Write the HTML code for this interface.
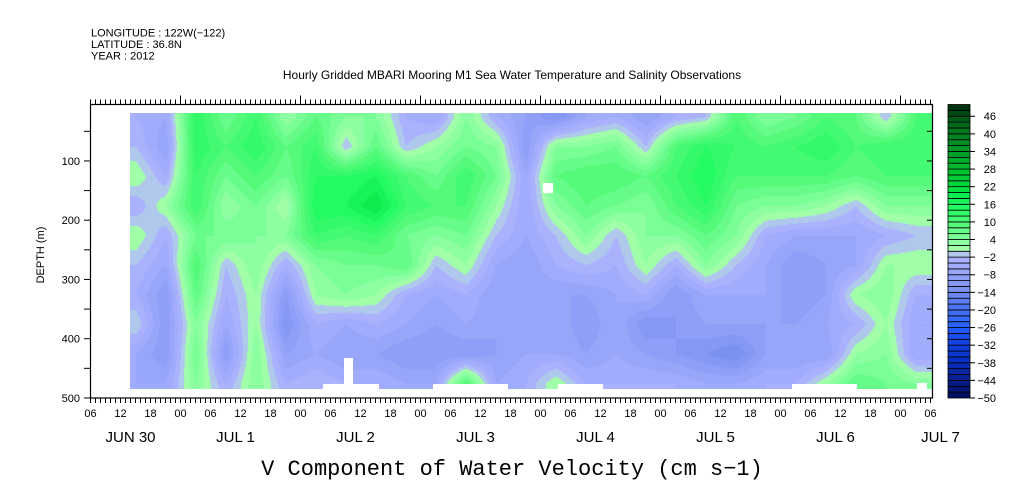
<!DOCTYPE html>
<html><head><meta charset="utf-8"><style>
body{margin:0;background:#fff;width:1009px;height:504px;overflow:hidden;position:relative;font-family:"Liberation Sans",sans-serif}
svg{position:absolute;left:0;top:0}
canvas{position:absolute;left:130px;top:113px}
</style></head><body>
<canvas id="hm" width="803" height="276"></canvas>
<svg id="s" width="1009" height="504"></svg>
<script>
// hours since Jun30 00:00 of each column
const hours=[15,21,27,33,39,45,51,57,63,69,75,81,87,93,99,105,111,117,123,129,135,141,147,153,159,165,171];
const depths=[25,75,125,175,225,275,325,375,425,475];
// values[col][row] in cm/s
const values=[
[-4,-2,2,-4,2,-2,-4,0,-6,-6],
[-6,-8,-4,2,-4,-6,-10,-10,-10,-6],
[14,14,12,12,6,10,8,4,6,4],
[6,10,6,2,6,-2,-4,-6,-10,-4],
[12,14,10,6,4,4,2,2,4,4],
[2,8,6,0,4,-4,-10,-12,-8,-4],
[8,12,14,16,12,4,2,-4,-6,-2],
[4,-2,14,16,10,6,4,-6,-8,-4],
[4,8,16,20,12,6,2,-4,-8,-4],
[-4,-2,10,12,6,8,-4,-6,-10,-6],
[-6,2,6,10,4,-2,-6,-8,-10,-6],
[4,6,12,10,6,2,-4,-6,-10,10],
[-4,4,6,2,-2,-6,-8,-8,-8,-6],
[-8,-10,-6,-6,-6,-8,-6,-8,-6,-4],
[-12,4,8,4,-2,-4,-8,-6,-6,2],
[-6,4,10,8,4,-2,-8,-10,-8,-4],
[-4,6,10,6,-2,-4,-6,-6,-6,-4],
[-8,-2,8,4,4,2,-4,-12,-8,-4],
[-4,10,12,10,4,-4,-10,-10,-10,-4],
[-2,14,16,14,8,4,-6,-8,-12,-6],
[10,12,10,6,4,-2,-6,-8,-14,-6],
[4,10,10,4,-4,-6,-6,-8,-8,-4],
[6,12,10,4,-6,-10,-10,-8,-8,-4],
[10,14,10,2,-6,-8,-8,-6,-8,2],
[8,10,8,-2,-6,-6,2,-4,2,8],
[-2,12,10,4,-4,2,4,2,4,6],
[10,12,10,4,-2,2,-4,-6,-6,4]];
const cbLabels=[46,40,34,28,22,16,10,4,-2,-8,-14,-20,-26,-32,-38,-44,-50];
const yTicks=[100,200,300,400,500];
const dateLabels=["JUN 30","JUL  1","JUL  2","JUL  3","JUL  4","JUL  5","JUL  6","JUL  7"];
const dateHours=[14,35,59,83,107,131,155,176];

// axes
const X0=90.5,H0=6,PXH=5; const xOf=h=>X0+(h-H0)*PXH;
const Y0=101.7,PXM=0.5925; const yOf=d=>Y0+d*PXM;
const CB_TOP=104.5,CB_BOT=398; const cbY=v=>CB_BOT-(v+50)*(CB_BOT-CB_TOP)/100;

const anchors=[[-50,[0,16,96]],[-44,[8,32,144]],[-38,[8,48,192]],[-32,[16,64,224]],[-26,[40,96,255]],[-20,[72,112,240]],[-14,[120,144,240]],[-8,[150,164,250]],[-2,[176,182,255]],
[0,[176,255,176]],[4,[136,255,160]],[10,[80,250,120]],[16,[32,250,96]],[22,[0,224,64]],[28,[0,192,48]],[34,[0,160,40]],[40,[0,128,32]],[46,[0,88,24]],[50,[0,48,16]]];
function col(v){v=Math.max(-50,Math.min(49.99,v));for(let i=0;i<anchors.length-1;i++){const a=anchors[i],b=anchors[i+1];if(v>=a[0]&&v<=b[0]){const t=(v-a[0])/(b[0]-a[0]);return a[1].map((c,k)=>Math.round(c+(b[1][k]-c)*t));}}return anchors[anchors.length-1][1];}
function bandColor(v){const lo=Math.floor(v/2)*2;return col(lo<0?lo+0.5:lo+1.5);}

// heatmap
const cv=document.getElementById('hm'),ctx=cv.getContext('2d');
const img=ctx.createImageData(cv.width,cv.height);
function interp(arr,x){if(x<=arr[0])return[0,0];const n=arr.length;if(x>=arr[n-1])return[n-2,1];for(let i=0;i<n-1;i++)if(x<=arr[i+1])return[i,(x-arr[i])/(arr[i+1]-arr[i])];}
for(let py=0;py<cv.height;py++){const d=(py+113-Y0)/PXM;const [r,tr]=interp(depths,d);
 for(let px=0;px<cv.width;px++){const h=(px+130-X0)/PXH+H0;const [c,tc]=interp(hours,h);
  const v=(1-tc)*((1-tr)*values[c][r]+tr*values[c][r+1])+tc*((1-tr)*values[c+1][r]+tr*values[c+1][r+1]);
  const cc=bandColor(v);const o=(py*cv.width+px)*4;img.data[o]=cc[0];img.data[o+1]=cc[1];img.data[o+2]=cc[2];img.data[o+3]=255;}}
ctx.putImageData(img,0,0);

const S=document.getElementById('s');const NS='http://www.w3.org/2000/svg';
function el(t,a,txt){const e=document.createElementNS(NS,t);for(const k in a)e.setAttribute(k,a[k]);if(txt!=null)e.textContent=txt;S.appendChild(e);return e;}
// missing data gaps
[[323,384,56,6],[344,358,9,26],[433,384,75,6],[558,384,45,6],[792,384,65,6],[917,383,10,7],[543,183,10,10]].forEach(g=>{
 const r=el('rect',{x:g[0],y:g[1],width:g[2],height:g[3],fill:'#fff'});
 
 });
const frame=el('rect',{x:90.5,y:104.5,width:842,height:293.5,fill:'none',stroke:'#000','stroke-width':1.2});


for(let h=6;h<=174;h++){const x=xOf(h);if(x>932.5)break;const major=(h%24===0);
 el('line',{x1:x,x2:x,y1:104.5,y2:104.5-(major?9:5),stroke:'#000','stroke-width':1});
 el('line',{x1:x,x2:x,y1:398,y2:398+5,stroke:'#000','stroke-width':1});
 if(h%6===0){const t=el('text',{x:x,y:417,'font-size':11,'text-anchor':'middle'},String(h%24).padStart(2,'0'));
  
  }}
dateLabels.forEach((s,i)=>{const t=el('text',{x:xOf(dateHours[i]),y:442,'font-size':15,'text-anchor':'middle','xml:space':'preserve'},s);
 
 });
for(let d=50;d<=500;d+=50){const y=yOf(d);el('line',{x1:90.5,x2:84,y1:y,y2:y,stroke:'#000'});el('line',{x1:932.5,x2:927,y1:y,y2:y,stroke:'#000'});}
yTicks.forEach(d=>{const t=el('text',{x:80,y:yOf(d)+4,'font-size':11,'text-anchor':'end'},String(d));
 
 });
const yt=el('text',{x:0,y:0,'font-size':11,'text-anchor':'middle',transform:'translate(44,255) rotate(-90)'},'DEPTH (m)');


// colorbar
for(let v=-50;v<50;v+=2){const c=bandColor(v+0.5);const r=el('rect',{x:948,y:cbY(v+2),width:22,height:cbY(v)-cbY(v+2),fill:`rgb(${c})`,stroke:'#000','stroke-width':0.8});
 
 }
cbLabels.forEach(v=>{const y=cbY(v);el('line',{x1:970,x2:975,y1:y,y2:y,stroke:'#000'});
 const t=el('text',{x:996,y:y+4,'font-size':11,'text-anchor':'end'},v<0?'\u2212'+(-v):String(v));
 
 });
// texts
[['LONGITUDE : 122W(\u2212122)',36.5],['LATITUDE : 36.8N',48],['YEAR : 2012',59.5]].forEach(a=>{const t=el('text',{x:91,y:a[1],'font-size':11},a[0]);
 
 });
const tt=el('text',{x:512,y:79,'font-size':12,'text-anchor':'middle'},'Hourly Gridded MBARI Mooring M1 Sea Water Temperature and Salinity Observations');


const bt=el('text',{x:512,y:475,'font-size':22,'text-anchor':'middle','font-family':'Liberation Mono, monospace'},'V Component of Water Velocity (cm s\u22121)');


</script>
</body></html>
